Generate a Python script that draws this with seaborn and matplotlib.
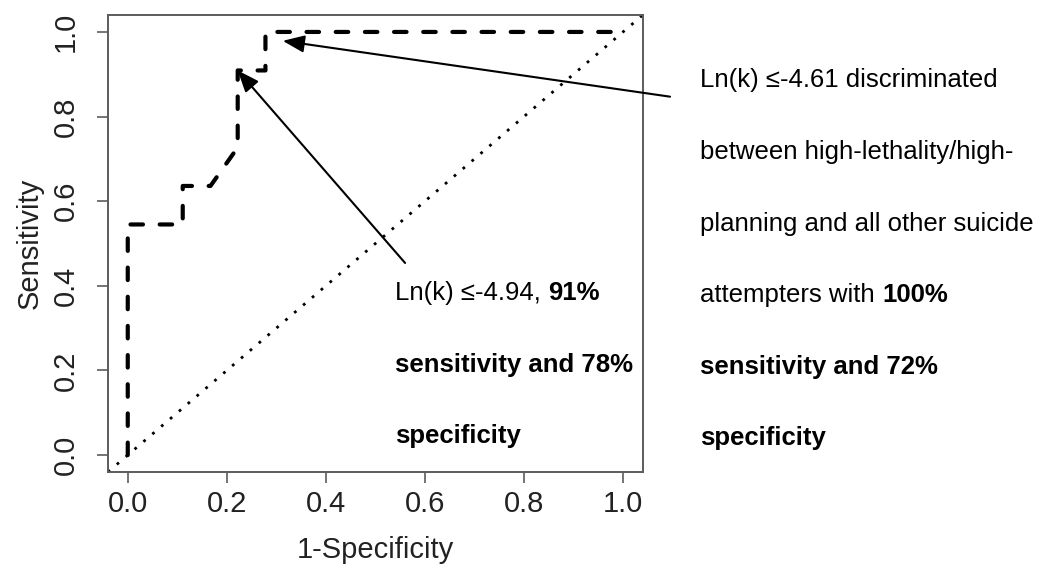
import matplotlib
matplotlib.use("Agg")
import matplotlib.pyplot as plt
import matplotlib.transforms as mtransforms
import numpy as np
import pandas as pd
import seaborn as sns

# ROC curve points (false positive rate, true positive rate)
fpr = [0.0, 0.0, 0.111, 0.111, 0.167, 0.222, 0.222, 0.278, 0.278, 1.0]
tpr = [0.0, 0.545, 0.545, 0.636, 0.636, 0.727, 0.909, 0.909, 1.0, 1.0]

tick_values = [0.0, 0.2, 0.4, 0.6, 0.8, 1.0]
tick_labels = ["0.0", "0.2", "0.4", "0.6", "0.8", "1.0"]

# Cut-off points highlighted by the arrows
cut_a = (0.222, 0.909)   # Ln(k) <= -4.94
cut_b = (0.278, 1.0)     # Ln(k) <= -4.61

left_note = [
    [("Ln(k) \u2264-4.94, ", "normal"), ("91%", "bold")],
    [("sensitivity and 78%", "bold")],
    [("specificity", "bold")],
]
right_note = [
    [("Ln(k) \u2264-4.61 discriminated", "normal")],
    [("between high-lethality/high-", "normal")],
    [("planning and all other suicide", "normal")],
    [("attempters with ", "normal"), ("100%", "bold")],
    [("sensitivity and 72%", "bold")],
    [("specificity", "bold")],
]

sns.set_theme(style="ticks")
plt.rcParams["font.family"] = ["Liberation Sans", "DejaVu Sans"]

fig = plt.figure(figsize=(10.42, 5.71), dpi=100)
ax = fig.add_axes([0.1036, 0.1734, 0.5133, 0.8003])

roc = pd.DataFrame({"fpr": fpr, "tpr": tpr})
sns.lineplot(data=roc, x="fpr", y="tpr", sort=False, estimator=None, ax=ax,
             color="black", linewidth=3.0, dashes=False,
             solid_capstyle="round")
line = ax.lines[-1]
line.set_dashes((3.0, 4.0))
line.set_dash_capstyle("round")

# chance diagonal across the whole panel
ax.axline((0, 0), slope=1, color="black", linewidth=2.0,
          linestyle=(0, (1.0, 3.2)))

ax.set_xlim(-0.04, 1.04)
ax.set_ylim(-0.04, 1.04)
ax.set_xticks(tick_values)
ax.set_xticklabels(tick_labels)
ax.set_yticks(tick_values)
ax.set_yticklabels(tick_labels)

frame_col = "#5c5c5c"
for sp in ax.spines.values():
    sp.set_visible(True)
    sp.set_color(frame_col)
    sp.set_linewidth(1.4)
ax.tick_params(axis="both", length=8, width=1.2, color=frame_col,
               labelsize=21, labelcolor="#222222")
ax.tick_params(axis="x", pad=5)
ax.tick_params(axis="y", pad=12, labelrotation=90)
for lab in ax.get_yticklabels():
    lab.set_va("center")

ax.set_xlabel("1-Specificity", fontsize=21, color="#222222")
ax.set_ylabel("Sensitivity", fontsize=21, color="#222222")
ax.xaxis.set_label_coords(0.5, -0.14)
ax.yaxis.set_label_coords(-0.12, 0.5)

arrow_kw = dict(arrowstyle="-|>,head_length=0.55,head_width=0.22",
                mutation_scale=24, color="black", lw=1.5,
                shrinkA=0, shrinkB=0)
ax.annotate("", xy=cut_a, xytext=(0.560, 0.454),
            xycoords="data", textcoords="data",
            arrowprops=arrow_kw, annotation_clip=False)
ax.annotate("", xy=(0.313, 0.979), xytext=(1.095, 0.847),
            xycoords="data", textcoords="data",
            arrowprops=arrow_kw, annotation_clip=False)

renderer = fig.canvas.get_renderer()


def text_width(s, weight):
    probe = ax.text(0, 0, s + "|", fontsize=18.5, fontweight=weight)
    bar = ax.text(0, 0, "|", fontsize=18.5, fontweight=weight)
    w = probe.get_window_extent(renderer).width - bar.get_window_extent(renderer).width
    probe.remove()
    bar.remove()
    return w


def rich_lines(x, baselines, lines):
    for y, parts in zip(baselines, lines):
        offset = 0.0
        for s, weight in parts:
            tr = mtransforms.offset_copy(ax.transData, fig=fig, x=offset,
                                         y=0, units="dots")
            ax.text(x, y, s, transform=tr, fontsize=18.5, fontweight=weight,
                    color="black", ha="left", va="baseline", clip_on=False)
            offset += text_width(s, weight)


rich_lines(0.539, [0.366, 0.196, 0.028], left_note)
rich_lines(1.156, [0.869, 0.700, 0.530, 0.361, 0.192, 0.024], right_note)

fig.savefig("out.png", dpi=100)
